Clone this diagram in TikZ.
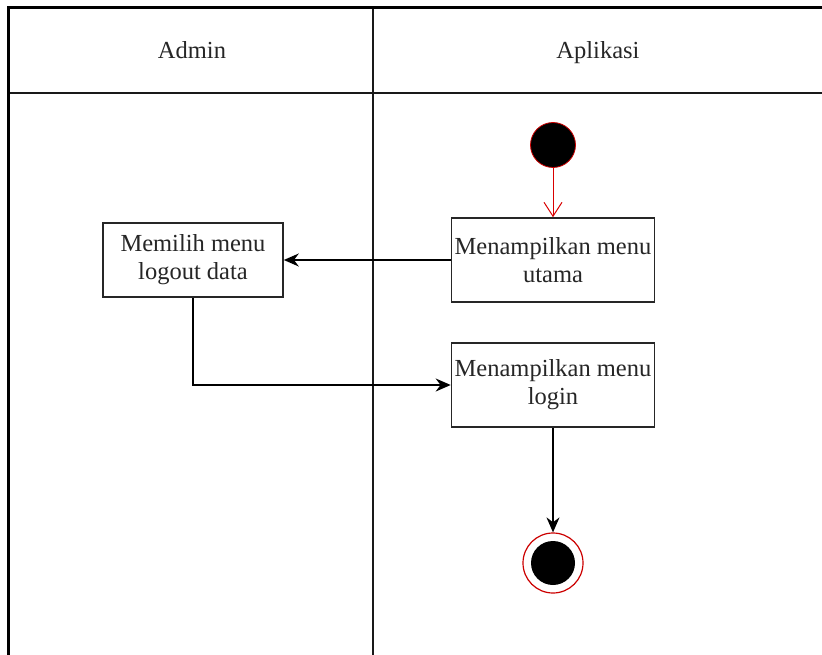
\documentclass[tikz,border=0pt]{standalone}
\usepackage{fontspec}
\setmainfont{Liberation Serif}
\usetikzlibrary{arrows.meta}
\begin{document}
\begin{tikzpicture}[x=1pt,y=-1pt,
  actbox/.style={draw=black!85,line width=1.6pt,fill=white,rectangle,align=center,inner sep=1pt,
    font=\fontsize{24.5}{28}\selectfont,text=black!85},
  flow/.style={line width=1.4pt,-{Stealth[length=15pt,width=13pt]}},
  lane/.style={line width=1.3pt,black!90},
  lbl/.style={font=\fontsize{24.5}{28}\selectfont,text=black!85,anchor=base}]
\useasboundingbox (0,0) rectangle (822,655);
\fill[white] (0,0) rectangle (822,655);
% frame and lanes
\draw[line width=3pt] (8.5,655) -- (8.5,8) -- (822,8);
\draw[lane] (10,93) -- (822,93);
\draw[lane] (373,9) -- (373,655);
\node[lbl] (hadmin) at (192,59) {Admin};
\node[lbl] (happ) at (598,59) {Aplikasi};
% nodes
\node[circle,fill=black,draw=red!80!black,line width=0.8pt,minimum size=45pt,inner sep=0pt] (start) at (553,145) {};
\node[actbox,minimum width=203pt,minimum height=84pt] (utama) at (553,260) {Menampilkan menu\\utama};
\node[actbox,minimum width=180pt,minimum height=74pt] (logout) at (193,260) {Memilih menu\\logout data};
\node[actbox,minimum width=203pt,minimum height=84pt] (login) at (553,385) {Menampilkan menu\\login};
\node[circle,draw=red!80!black,line width=1.2pt,fill=white,minimum size=60pt,inner sep=0pt] (end) at (553,563) {};
\node[circle,fill=black,minimum size=44pt,inner sep=0pt] (endin) at (end.center) {};
% connectors
\draw[red!85!black,line width=1pt,-{Straight Barb[length=14pt,width=18pt]}] (start) -- (utama);
\draw[flow] (utama.west) -- (logout.east);
\draw[flow] (logout.south) |- (login.west);
\draw[flow] (login.south) -- (end.north);
\end{tikzpicture}
\end{document}
